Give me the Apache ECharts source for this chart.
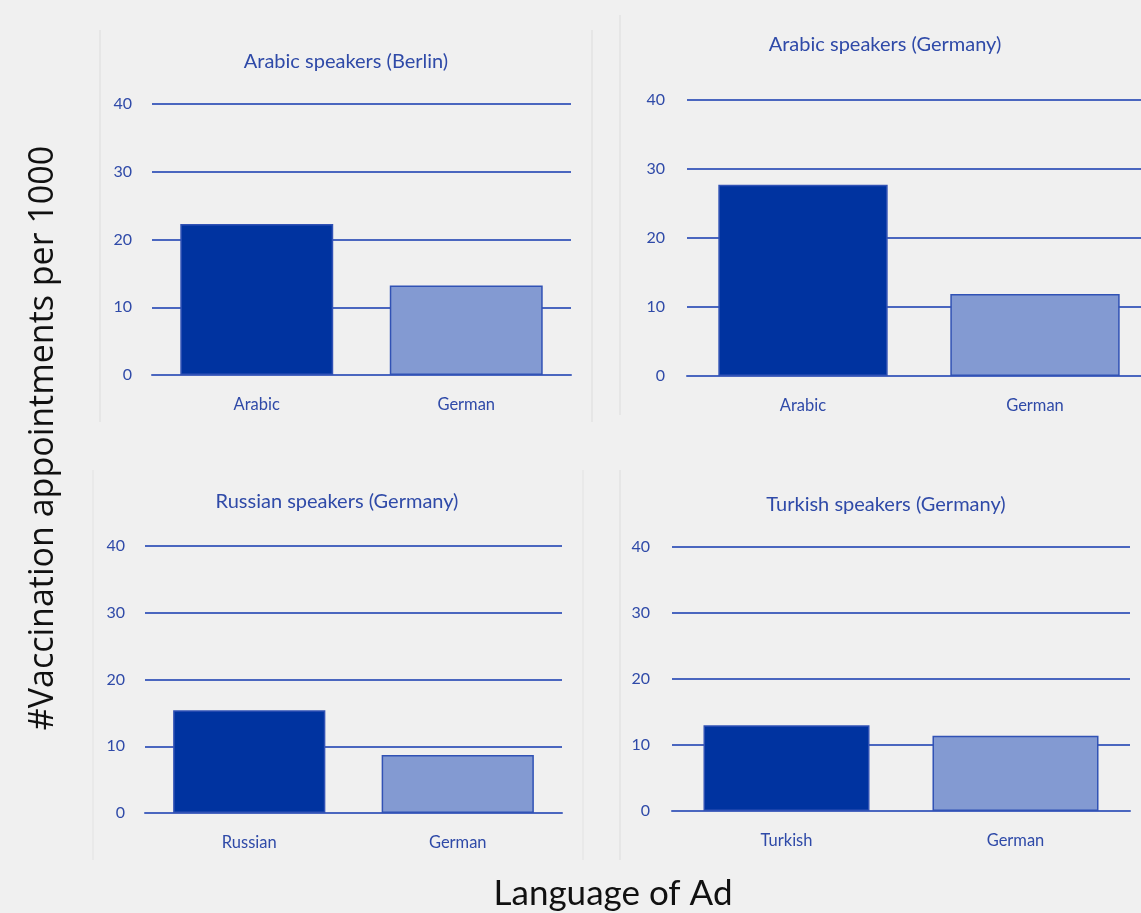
<!DOCTYPE html>
<html>
<head>
<meta charset="utf-8">
<script src="https://cdn.jsdelivr.net/npm/echarts@6/dist/echarts.min.js"></script>
<style>
html,body{margin:0;padding:0;background:#f0f0f0;}
#c{width:1141px;height:913px;}
</style>
</head>
<body>
<div id="c"></div>
<script>
const panelTitles = ["Arabic speakers (Berlin)", "Arabic speakers (Germany)", "Russian speakers (Germany)", "Turkish speakers (Germany)"];
const catsBerlinArabic = ["Arabic", "German"];
const catsGermanyArabic = ["Arabic", "German"];
const catsGermanyRussian = ["Russian", "German"];
const catsGermanyTurkish = ["Turkish", "German"];
const valsBerlinArabic = [22.3, 13.2];
const valsGermanyArabic = [27.7, 11.9];
const valsGermanyRussian = [15.4, 8.7];
const valsGermanyTurkish = [13.0, 11.4];
const yTicks = [0, 10, 20, 30, 40];
const yAxisTitle = "#Vaccination appointments per 1000";
const xAxisTitle = "Language of Ad";

const cats = [catsBerlinArabic, catsGermanyArabic, catsGermanyRussian, catsGermanyTurkish];
const vals = [valsBerlinArabic, valsGermanyArabic, valsGermanyRussian, valsGermanyTurkish];

const font = "Lato, 'Open Sans', sans-serif";
const txtColor = "#2f4aa8";
const lineColor = "#4a66bf";
const darkBar = "#0033a0";
const lightBar = "#839ad2";

const grids = [
  {left:152, top:104, width:419, height:271},
  {left:687, top:100, width:464, height:276},
  {left:145, top:546, width:417, height:267},
  {left:672, top:547, width:458, height:264}
];
const titlePos = [
  {x:346, y:62}, {x:885, y:45}, {x:337, y:502}, {x:886, y:505}
];
const labelMargin = [20, 22, 20, 22];
const barWidths = ["73%", "73%", "73%", "72.5%"];

const option = {
  backgroundColor: "#f0f0f0",
  animation: false,
  grid: grids.map(g => Object.assign({containLabel:false, outerBoundsMode:"none"}, g)),
  xAxis: cats.map((c, i) => ({
    type: "category", gridIndex: i, data: c,
    axisLine: {show: true, lineStyle: {color: lineColor, width: 2}},
    axisTick: {show: false},
    axisLabel: {color: txtColor, fontFamily: font, fontSize: 16.5, margin: 21}
  })),
  yAxis: cats.map((c, i) => ({
    type: "value", gridIndex: i, min: yTicks[0], max: yTicks[yTicks.length-1], interval: 10,
    axisLine: {show: false}, axisTick: {show: false},
    axisLabel: {color: txtColor, fontFamily: font, fontSize: 16, margin: labelMargin[i]},
    splitLine: {show: true, lineStyle: {color: lineColor, width: 2}}
  })),
  series: vals.map((v, i) => ({
    type: "bar", xAxisIndex: i, yAxisIndex: i, barWidth: barWidths[i],
    data: v.map((val, j) => ({
      value: val,
      itemStyle: {color: j === 0 ? darkBar : lightBar, borderColor: "#3152b5", borderWidth: 1.5}
    }))
  })),
  graphic: [
    {type:"line", shape:{x1:100,y1:30,x2:100,y2:422}, style:{stroke:"#dcdcdc", lineWidth:1}},
    {type:"line", shape:{x1:592,y1:30,x2:592,y2:422}, style:{stroke:"#dcdcdc", lineWidth:1}},
    {type:"line", shape:{x1:620,y1:15,x2:620,y2:415}, style:{stroke:"#dcdcdc", lineWidth:1}},
    {type:"line", shape:{x1:93,y1:470,x2:93,y2:860}, style:{stroke:"#e2e2e2", lineWidth:1}},
    {type:"line", shape:{x1:583,y1:470,x2:583,y2:860}, style:{stroke:"#e2e2e2", lineWidth:1}},
    {type:"line", shape:{x1:620,y1:470,x2:620,y2:860}, style:{stroke:"#dcdcdc", lineWidth:1}},
    ...panelTitles.map((t, i) => ({
      type: "text", x: titlePos[i].x, y: titlePos[i].y,
      style: {text: t, fill: txtColor, font: "20px " + font, textAlign: "center", textVerticalAlign: "middle"}
    })),
    {type:"text", x:43, y:438, rotation: Math.PI/2,
     style:{text: yAxisTitle, fill:"#111", font:"34px 'Open Sans', sans-serif", textAlign:"center", textVerticalAlign:"middle"}},
    {type:"text", x:613, y:894,
     style:{text: xAxisTitle, fill:"#111", font:"35px " + font, textAlign:"center", textVerticalAlign:"middle"}}
  ]
};
echarts.init(document.getElementById("c")).setOption(option);
</script>
</body>
</html>
